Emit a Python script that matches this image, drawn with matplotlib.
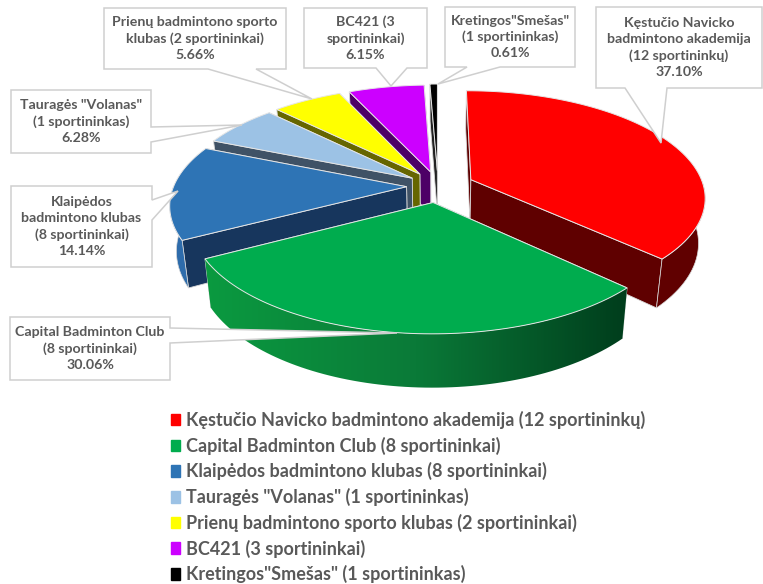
import numpy as np
import matplotlib
matplotlib.use("Agg")
import matplotlib.pyplot as plt
from matplotlib.patches import Polygon, Patch
from matplotlib.colors import LinearSegmentedColormap

plt.rcParams['font.family'] = ['Lato', 'DejaVu Sans']

clubs = ['Kęstučio Navicko badmintono akademija (12 sportininkų)',
         'Capital Badminton Club (8 sportininkai)',
         'Klaipėdos badmintono klubas (8 sportininkai)',
         'Tauragės "Volanas" (1 sportininkas)',
         'Prienų badmintono sporto klubas (2 sportininkai)',
         'BC421 (3 sportininkai)',
         'Kretingos"Smešas" (1 sportininkas)']
shares = [37.10, 30.06, 14.14, 6.28, 5.66, 6.15, 0.61]
callout_names = ['Kęstučio Navicko\nbadmintono akademija\n(12 sportininkų)',
                 'Capital Badminton Club\n(8 sportininkai)',
                 'Klaipėdos\nbadmintono klubas\n(8 sportininkai)',
                 'Tauragės "Volanas"\n(1 sportininkas)',
                 'Prienų badmintono sporto\nklubas (2 sportininkai)',
                 'BC421 (3\nsportininkai)',
                 'Kretingos"Smešas"\n(1 sportininkas)']

top_colors = ['#ff0000', '#00ac4e', '#2e74b5', '#9cc2e5', '#ffff00', '#cc00ff', '#000000']
side_colors = ['#5f0000', '#0a7a3a', '#17365d', '#3f5266', '#666600', '#4d0066', '#222222']
wall_colors = ['#600000', None, '#2e6cab', '#8fb4d6', '#808000', '#6a0088', '#111111']
explode = [0.155, 0.155, 0.135, 0.135, 0.14, 0.14, 0.15]

# pie layout in pixels
cx, cy = 438, 186
rx, ry = 232.8, 104.8
persp = 0.158
depth = 44
bottom_shrink = 0.975
# back slices first, green one goes on top of everything
draw_order = [5, 6, 4, 3, 0, 2, 1]

# box x0, y0, x1, y1 and pointer base a, base b, tip
callouts = [
    ((596, 7, 762, 88), (625, 88), (667, 88), (661, 143)),
    ((10, 317, 170, 380), (170, 328), (170, 343), (397, 333)),
    ((11, 186, 152, 267), (152, 200), (152, 220), (178, 191)),
    ((11, 90, 151, 153), (151, 127), (151, 142), (242, 125)),
    ((104, 8, 286, 69), (208, 69), (256, 69), (312, 99)),
    ((304, 8, 427, 68), (376, 68), (407, 68), (391, 86)),
    ((445, 7, 575, 67), (467, 67), (500, 67), (438, 84)),
]


def project(gx, gy):
    s = 1 / (1 - persp * gy)
    return cx + rx * gx * s, cy + ry * gy * s


def project_bottom(gx, gy):
    s = 1 / (1 - persp * gy)
    return cx + rx * gx * s * bottom_shrink, cy + ry * gy * s + depth * s


fig = plt.figure(figsize=(7.63, 5.84), dpi=100)
ax = fig.add_axes([0, 0, 1, 1])

edges = np.cumsum([0] + shares) / 100 * 2 * np.pi
green_cmap = LinearSegmentedColormap.from_list('wall', ['#0b9a40', '#0a7a38', '#003d1c'])

for n, i in enumerate(draw_order):
    z = 2 + n * 3
    th = np.linspace(edges[i], edges[i + 1], 80)
    mid = (edges[i] + edges[i + 1]) / 2
    ox, oy = explode[i] * np.sin(mid), -explode[i] * np.cos(mid)
    gx = ox + np.sin(th)
    gy = oy - np.cos(th)

    ax0, ay0 = project(ox, oy)
    ax1, ay1 = project_bottom(ox, oy)
    xt, yt = project(gx, gy)
    xb, yb = project_bottom(gx, gy)

    # radial faces, the one further back first
    ends = (0, -1) if gy[0] < gy[-1] else (-1, 0)
    for k in ends:
        ax.add_patch(Polygon([(ax0, ay0), (xt[k], yt[k]), (xb[k], yb[k]), (ax1, ay1)],
                             fc=side_colors[i], ec='#d9d9d9', lw=0.6, zorder=z))

    # outer wall, only the part turned to the viewer
    front = -np.cos(th) >= 0
    if front.sum() > 1:
        pts = list(zip(xt[front], yt[front])) + list(zip(xb[front][::-1], yb[front][::-1]))
        if wall_colors[i] is None:
            wall = Polygon(pts, fc='none', ec='none', zorder=z + 1)
            ax.add_patch(wall)
            im = ax.imshow(np.linspace(0, 1, 256).reshape(1, -1), cmap=green_cmap, aspect='auto',
                           extent=(xt[front].min(), xt[front].max(), 400, 250), zorder=z + 1)
            im.set_clip_path(wall)
        else:
            ax.add_patch(Polygon(pts, fc=wall_colors[i], ec='#d9d9d9', lw=0.5, zorder=z + 1))

    top = [(ax0, ay0)] + list(zip(xt, yt))
    ax.add_patch(Polygon(top, fc=top_colors[i], ec='#e6e6e6', lw=0.7, zorder=z + 2))

for i in range(len(shares)):
    box, a, b, tip = callouts[i]
    x0, y0, x1, y1 = box
    # walk round the box and put the pointer in on the side where its base sits
    if a[1] == y1:
        pts = [(x0, y0), (x1, y0), (x1, y1), b, tip, a, (x0, y1)]
    else:
        pts = [(x0, y0), (x1, y0), a, tip, b, (x1, y1), (x0, y1)]
    ax.add_patch(Polygon(pts, fc='white', ec='#cfcfcf', lw=1.1, zorder=50, joinstyle='miter'))
    ax.text((x0 + x1) / 2, (y0 + y1) / 2, callout_names[i] + '\n%.2f%%' % shares[i],
            ha='center', va='center', fontsize=10.2, fontweight='bold', color='#595959',
            linespacing=1.38, zorder=51)

ax.set_xlim(0, 763)
ax.set_ylim(584, 0)
ax.axis('off')

handles = [Patch(fc=c, ec=c) for c in top_colors]
ax.legend(handles, clubs, loc='upper left', bbox_to_anchor=(171 / 763, 1 - 411 / 584),
          frameon=False, labelspacing=0.42, handlelength=0.5, handleheight=0.6,
          handletextpad=0.33, borderpad=0, borderaxespad=0, labelcolor='#595959',
          prop={'weight': 'bold', 'size': 13.0})

plt.savefig('out.png', dpi=100)
